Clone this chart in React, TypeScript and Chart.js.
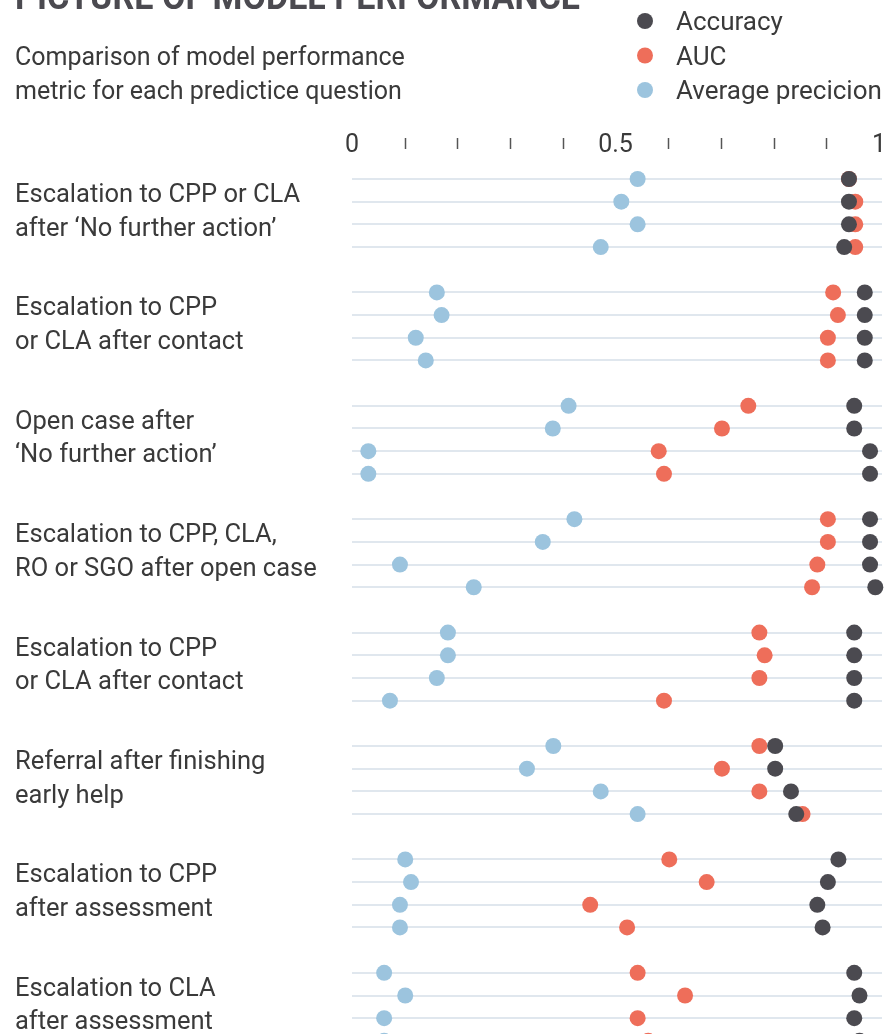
import { useEffect, useRef } from "react";
import { Chart, registerables } from "chart.js";

Chart.register(...registerables);

const TITLE = "PICTURE OF MODEL PERFORMANCE";
const SUBTITLE = ["Comparison of model performance", "metric for each predictice question"];
const SERIES_NAMES = ["Accuracy", "AUC", "Average precicion"];
const SERIES_COLORS = ["#4b4a50", "#ee6e5a", "#9cc4de"];

const QUESTIONS: string[][] = [
  ["Escalation to CPP or CLA", "after \u2018No further action\u2019"],
  ["Escalation to CPP", "or CLA after contact"],
  ["Open case after", "\u2018No further action\u2019"],
  ["Escalation to CPP, CLA,", "RO or SGO after open case"],
  ["Escalation to CPP", "or CLA after contact"],
  ["Referral after finishing", "early help"],
  ["Escalation to CPP", "after assessment"],
  ["Escalation to CLA", "after assessment"],
];

const ACCURACY = [
  0.943, 0.943, 0.943, 0.934,
  0.973, 0.973, 0.973, 0.973,
  0.953, 0.953, 0.983, 0.983,
  0.983, 0.983, 0.983, 0.993,
  0.953, 0.953, 0.953, 0.953,
  0.803, 0.803, 0.833, 0.843,
  0.923, 0.903, 0.883, 0.893,
  0.953, 0.963, 0.953, 0.963,
];

const AUC = [
  0.943, 0.955, 0.955, 0.955,
  0.913, 0.922, 0.903, 0.903,
  0.752, 0.702, 0.582, 0.592,
  0.903, 0.903, 0.883, 0.873,
  0.773, 0.783, 0.773, 0.592,
  0.773, 0.702, 0.773, 0.855,
  0.602, 0.673, 0.452, 0.522,
  0.542, 0.632, 0.542, 0.562,
];

const AVG_PRECISION = [
  0.542, 0.511, 0.542, 0.472,
  0.161, 0.170, 0.121, 0.140,
  0.411, 0.381, 0.031, 0.031,
  0.422, 0.362, 0.091, 0.231,
  0.182, 0.182, 0.161, 0.072,
  0.382, 0.332, 0.472, 0.542,
  0.101, 0.112, 0.091, 0.091,
  0.061, 0.101, 0.061, 0.061,
];

const X_TICKS = [0, 0.1, 0.2, 0.3, 0.4, 0.5, 0.6, 0.7, 0.8, 0.9, 1];
const X_TICK_LABELS = ["0", "", "", "", "", "0.5", "", "", "", "", "1"];

const ROWS_PER_GROUP = 4;
const SLOTS_PER_GROUP = 5;
const Y_MIN = -1;
const Y_MAX = 38.05;

const rowIndex = (i: number) =>
  Math.floor(i / ROWS_PER_GROUP) * SLOTS_PER_GROUP + (i % ROWS_PER_GROUP);

const toPoints = (vals: number[]) => vals.map((v, i) => ({ x: v, y: rowIndex(i) }));

const FONT = "Roboto, 'Noto Sans', sans-serif";

const decorPlugin = {
  id: "decor",
  beforeDatasetsDraw(chart: any) {
    const { ctx, scales } = chart;
    const xs = scales.x;
    const ys = scales.y;
    ctx.save();
    ctx.strokeStyle = "#e0e7ee";
    ctx.lineWidth = 2;
    const total = QUESTIONS.length * ROWS_PER_GROUP;
    for (let i = 0; i < total; i++) {
      const y = Math.round(ys.getPixelForValue(rowIndex(i)));
      ctx.beginPath();
      ctx.moveTo(xs.getPixelForValue(0), y);
      ctx.lineTo(xs.getPixelForValue(1) + 3, y);
      ctx.stroke();
    }
    ctx.restore();
  },
  afterDraw(chart: any) {
    const { ctx, scales } = chart;
    const xs = scales.x;
    const ys = scales.y;
    ctx.save();

    // Title (partly cut off at top)
    ctx.fillStyle = "#4b4a50";
    ctx.font = `bold 36px ${FONT}`;
    ctx.textBaseline = "alphabetic";
    ctx.textAlign = "left";
    ctx.fillText(TITLE, 15, 9, 565);

    // Subtitle
    ctx.fillStyle = "#3a3a3a";
    ctx.font = `25px ${FONT}`;
    ctx.fillText(SUBTITLE[0], 15, 65);
    ctx.fillText(SUBTITLE[1], 15, 99);

    // Legend
    ctx.font = `26px ${FONT}`;
    SERIES_NAMES.forEach((name, i) => {
      const cy = 21 + i * 34.5;
      ctx.fillStyle = SERIES_COLORS[i];
      ctx.beginPath();
      ctx.arc(645, cy, 8, 0, Math.PI * 2);
      ctx.fill();
      ctx.fillStyle = "#3a3a3a";
      ctx.fillText(name, 676, cy + 9);
    });

    // Top axis
    ctx.font = `25px ${FONT}`;
    ctx.textAlign = "center";
    ctx.strokeStyle = "#555";
    ctx.lineWidth = 1.5;
    X_TICKS.forEach((v, i) => {
      const x = xs.getPixelForValue(v);
      const label = X_TICK_LABELS[i];
      if (label) {
        ctx.fillStyle = "#3a3a3a";
        ctx.fillText(label, x, 152);
      } else {
        const px = Math.round(x) + 0.5;
        ctx.beginPath();
        ctx.moveTo(px, 138);
        ctx.lineTo(px, 149);
        ctx.stroke();
      }
    });

    // Question labels
    ctx.font = `25.5px ${FONT}`;
    ctx.textAlign = "left";
    ctx.fillStyle = "#3a3a3a";
    QUESTIONS.forEach((lines, g) => {
      const c = ys.getPixelForValue(g * SLOTS_PER_GROUP + 1.5);
      ctx.fillText(lines[0], 15, c - 11);
      ctx.fillText(lines[1], 15, c + 22.5);
    });

    ctx.restore();
  },
};

export default function App() {
  const ref = useRef<HTMLCanvasElement | null>(null);

  useEffect(() => {
    document.body.style.margin = "0";
    const canvas = ref.current;
    if (!canvas) return;
    const mk = (i: number, vals: number[], order: number) => ({
      label: SERIES_NAMES[i],
      data: toPoints(vals),
      backgroundColor: SERIES_COLORS[i],
      borderWidth: 0,
      pointRadius: 8,
      pointHoverRadius: 8,
      clip: false as any,
      order,
    });
    const chart = new Chart(canvas, {
      type: "scatter",
      data: {
        datasets: [mk(0, ACCURACY, 0), mk(1, AUC, 1), mk(2, AVG_PRECISION, 2)],
      },
      options: {
        responsive: false,
        animation: false,
        devicePixelRatio: 1,
        layout: { padding: { left: 352, right: 7, top: 156.32, bottom: 0 } },
        scales: {
          x: { type: "linear", min: 0, max: 1, display: false },
          y: {
            type: "linear",
            min: Y_MIN,
            max: Y_MAX,
            bounds: "data",
            reverse: true,
            display: false,
            afterBuildTicks: (s: any) => {
              s.min = Y_MIN;
              s.max = Y_MAX;
            },
          },
        },
        plugins: {
          legend: { display: false },
          tooltip: { enabled: false },
        },
        events: [],
      },
      plugins: [decorPlugin],
    });
    return () => chart.destroy();
  }, []);

  return (
    <div style={{ width: 887, height: 1034, overflow: "hidden" }}>
      <canvas ref={ref} width={887} height={1050} style={{ display: "block" }} />
    </div>
  );
}
